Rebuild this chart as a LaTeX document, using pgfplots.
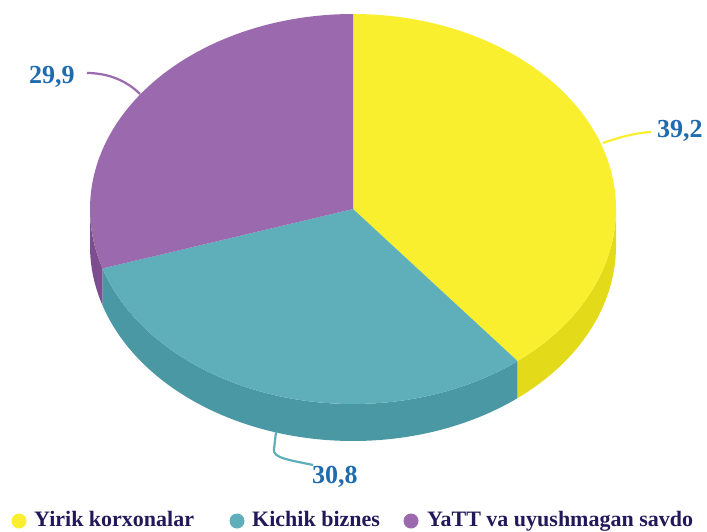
\documentclass[border=0pt]{standalone}
\usepackage{pgfplots}
\pgfplotsset{compat=1.18}
\usepackage{fontspec}
\setmainfont{Liberation Serif}
\definecolor{yelT}{HTML}{FAEF2E}
\definecolor{yelS}{HTML}{E3DA19}
\definecolor{cyaT}{HTML}{5FAFBB}
\definecolor{cyaS}{HTML}{4A98A3}
\definecolor{purT}{HTML}{9B69AD}
\definecolor{purS}{HTML}{7C4E8F}
\definecolor{lblue}{HTML}{1E6BB0}
\definecolor{legtxt}{HTML}{23195A}
\begin{document}
\begin{tikzpicture}
\useasboundingbox (0,0) rectangle (707pt,531pt);
% data (per cent)
\def\vA{39.2}\def\vB{30.8}\def\vC{29.9}
\pgfmathsetmacro{\tot}{\vA+\vB+\vC}
\pgfmathsetmacro{\aA}{90-\vA/\tot*360}      % end of yellow
\pgfmathsetmacro{\aB}{\aA-\vB/\tot*360}     % end of cyan
\pgfmathsetmacro{\aAp}{\aA+360}
\pgfmathsetmacro{\aBp}{\aB+360}
\begin{axis}[at={(0,0)},anchor=south west,width=707pt,height=531pt,scale only axis,hide axis,
  xmin=0,xmax=707,ymin=0,ymax=531,y dir=reverse,clip=false]
\addplot[draw=none] coordinates {(0,0) (707,531)};
% sides
\fill[purS] (axis cs:353,209) ++(180:263pt and 195pt) arc[start angle=180,end angle=\aBp,x radius=263pt,y radius=195pt] -- ++(0,-37pt) arc[start angle=\aBp,end angle=180,x radius=263pt,y radius=195pt] -- cycle;
\fill[cyaS] (axis cs:353,209) ++(\aBp:263pt and 195pt) arc[start angle=\aBp,end angle=\aAp,x radius=263pt,y radius=195pt] -- ++(0,-37pt) arc[start angle=\aAp,end angle=\aBp,x radius=263pt,y radius=195pt] -- cycle;
\fill[yelS] (axis cs:353,209) ++(\aAp:263pt and 195pt) arc[start angle=\aAp,end angle=360,x radius=263pt,y radius=195pt] -- ++(0,-37pt) arc[start angle=360,end angle=\aAp,x radius=263pt,y radius=195pt] -- cycle;
% tops
\fill[yelT] (axis cs:353,209) -- ++(90:263pt and 195pt) arc[start angle=90,end angle=\aA,x radius=263pt,y radius=195pt] -- cycle;
\fill[cyaT] (axis cs:353,209) -- ++(\aA:263pt and 195pt) arc[start angle=\aA,end angle=\aB,x radius=263pt,y radius=195pt] -- cycle;
\fill[purT] (axis cs:353,209) -- ++(\aB:263pt and 195pt) arc[start angle=\aB,end angle=-270,x radius=263pt,y radius=195pt] -- cycle;
% leader lines
\draw[yelT,line width=2.2pt] (axis cs:603,143) .. controls (axis cs:620,137) and (axis cs:635,133) .. (axis cs:651,132);
\draw[purT,line width=2.2pt] (axis cs:87,73) .. controls (axis cs:110,73) and (axis cs:128,82) .. (axis cs:140,94);
\draw[cyaT,line width=2.2pt] (axis cs:276,432) -- (axis cs:274,449) .. controls (axis cs:272,458) and (axis cs:290,460) .. (axis cs:313,465);
% labels
\node[anchor=base west,inner sep=0pt,text=lblue,font=\bfseries\fontsize{26}{30}\selectfont] at (axis cs:657,137) {39,2};
\node[anchor=base west,inner sep=0pt,text=lblue,font=\bfseries\fontsize{26}{30}\selectfont] at (axis cs:29,83) {29,9};
\node[anchor=base west,inner sep=0pt,text=lblue,font=\bfseries\fontsize{26}{30}\selectfont] at (axis cs:312,483) {30,8};
% legend
\fill[yelT] (axis cs:19,521) circle[radius=7.5pt];
\fill[cyaT] (axis cs:237,521) circle[radius=7.5pt];
\fill[purT] (axis cs:411,521) circle[radius=7.5pt];
\node[anchor=base west,inner sep=0pt,text=legtxt,font=\bfseries\fontsize{22}{26}\selectfont] at (axis cs:34,526) {Yirik korxonalar};
\node[anchor=base west,inner sep=0pt,text=legtxt,font=\bfseries\fontsize{22}{26}\selectfont] at (axis cs:252,526) {Kichik biznes};
\node[anchor=base west,inner sep=0pt,text=legtxt,font=\bfseries\fontsize{22}{26}\selectfont] at (axis cs:427,526) {YaTT va uyushmagan savdo};
\end{axis}
\end{tikzpicture}
\end{document}
